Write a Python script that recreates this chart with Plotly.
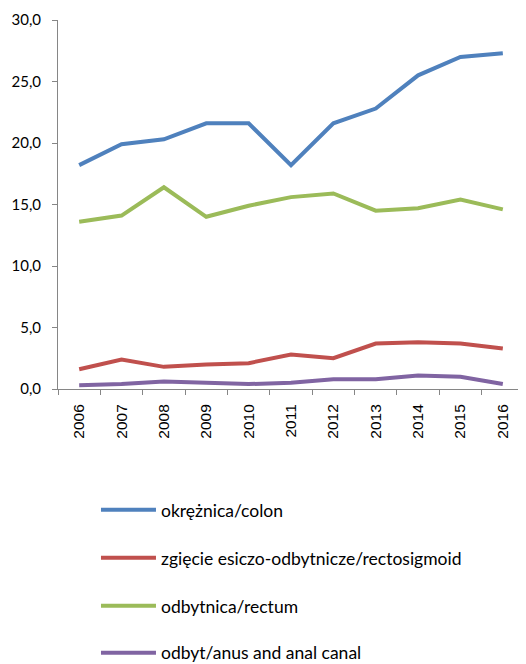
import plotly.graph_objects as go

years = ["2006", "2007", "2008", "2009", "2010", "2011", "2012", "2013", "2014", "2015", "2016"]
colon = [18.2, 19.9, 20.3, 21.6, 21.6, 18.2, 21.6, 22.8, 25.5, 27.0, 27.3]
rectosigmoid = [1.6, 2.4, 1.8, 2.0, 2.1, 2.8, 2.5, 3.7, 3.8, 3.7, 3.3]
rectum = [13.6, 14.1, 16.4, 14.0, 14.9, 15.6, 15.9, 14.5, 14.7, 15.4, 14.6]
anus = [0.3, 0.4, 0.6, 0.5, 0.4, 0.5, 0.8, 0.8, 1.1, 1.0, 0.4]

names = ["okrężnica/colon", "zgięcie esiczo-odbytnicze/rectosigmoid",
         "odbytnica/rectum", "odbyt/anus and anal canal"]
series = [colon, rectosigmoid, rectum, anus]
colors = ["#4F81BD", "#C0504D", "#9BBB59", "#8064A2"]
legend_ids = ["legend", "legend2", "legend3", "legend4"]
legend_y = [-0.279, -0.409, -0.539, -0.666]

fig = go.Figure()
for n, s, c, lid in zip(names, series, colors, legend_ids):
    fig.add_trace(go.Scatter(x=years, y=s, name=n, mode="lines",
                             line=dict(color=c, width=4), legend=lid))

legend_style = dict(orientation="v", x=0.0815, xanchor="left", yanchor="top",
                    font=dict(family="Lato, Open Sans, sans-serif", size=17.5, color="#000000"),
                    itemwidth=55, bgcolor="rgba(0,0,0,0)")
legends = {lid: dict(legend_style, y=ly) for lid, ly in zip(legend_ids, legend_y)}

fig.update_layout(
    width=518, height=656,
    margin=dict(l=50, r=2, t=12, b=275, autoexpand=False),
    plot_bgcolor="white", paper_bgcolor="white",
    separators=", ",
    showlegend=True,
    xaxis=dict(type="category", range=[-0.5, 10.5], tickson="boundaries",
               ticks="outside", ticklen=5, tickcolor="#868686",
               showline=True, linecolor="#868686", linewidth=1,
               showgrid=False, tickangle=-90, ticklabelstandoff=8,
               tickfont=dict(family="Liberation Sans, Arial, sans-serif", size=15.5, color="#000000")),
    yaxis=dict(range=[0, 30], dtick=5, tickformat=".1f",
               ticks="outside", ticklen=5, tickcolor="#868686",
               showline=True, linecolor="#868686", linewidth=1,
               showgrid=False, zeroline=False, ticklabelstandoff=8,
               tickfont=dict(family="Lato, Open Sans, sans-serif", size=15, color="#000000")),
    **legends,
)

fig.write_html("out.html")
